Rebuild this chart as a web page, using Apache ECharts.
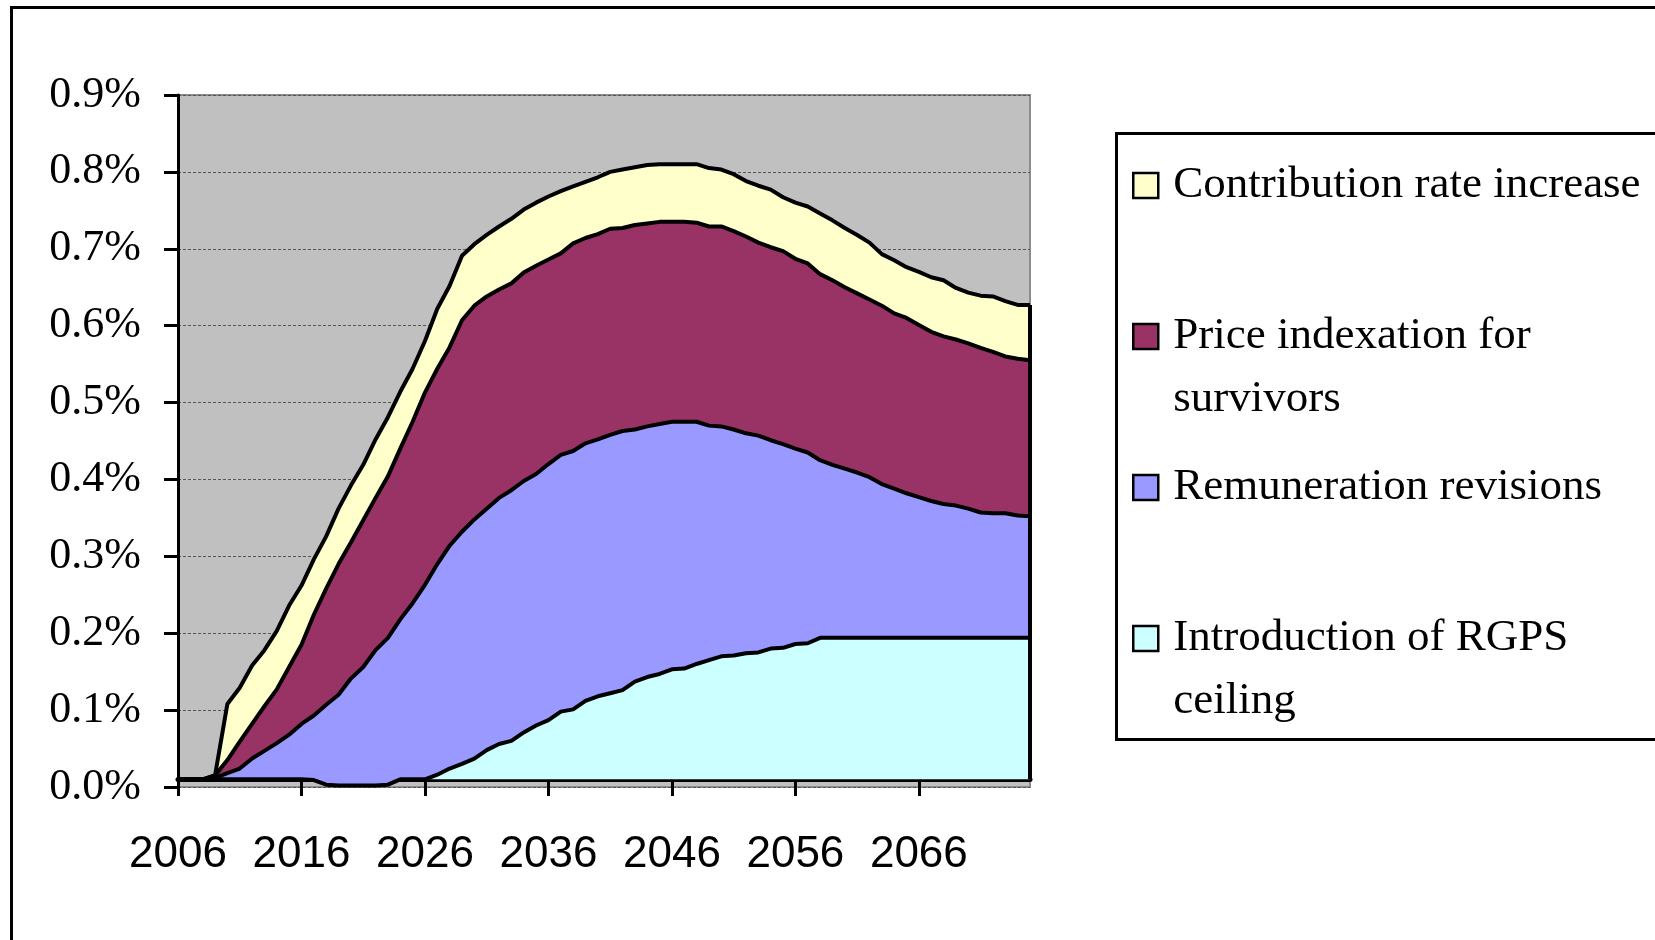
<!DOCTYPE html>
<html>
<head>
<meta charset="utf-8">
<script src="https://cdn.jsdelivr.net/npm/echarts@6/dist/echarts.min.js"></script>
<style>
html, body { margin: 0; padding: 0; background: #fff; }
#chart { width: 1655px; height: 940px; }
</style>
</head>
<body>
<div id="chart"></div>
<script>
var years = ['2006','2007','2008','2009','2010','2011','2012','2013','2014','2015',
    '2016','2017','2018','2019','2020','2021','2022','2023','2024','2025',
    '2026','2027','2028','2029','2030','2031','2032','2033','2034','2035',
    '2036','2037','2038','2039','2040','2041','2042','2043','2044','2045',
    '2046','2047','2048','2049','2050','2051','2052','2053','2054','2055',
    '2056','2057','2058','2059','2060','2061','2062','2063','2064','2065',
    '2066','2067','2068','2069','2070','2071','2072','2073','2074','2075'];

// values in % of GDP, bottom of the stack first
var rgpsCeiling = [0.010, 0.010, 0.010, 0.010, 0.010, 0.010, 0.010, 0.010, 0.010, 0.010,
    0.010, 0.009, 0.003, 0.002, 0.002, 0.002, 0.002, 0.003, 0.010, 0.010,
    0.010, 0.016, 0.024, 0.030, 0.037, 0.048, 0.056, 0.060, 0.071, 0.080,
    0.087, 0.098, 0.101, 0.112, 0.118, 0.122, 0.126, 0.137, 0.143, 0.147,
    0.153, 0.154, 0.160, 0.165, 0.170, 0.171, 0.174, 0.175, 0.180, 0.181,
    0.186, 0.187, 0.194, 0.194, 0.194, 0.194, 0.194, 0.194, 0.194, 0.194,
    0.194, 0.194, 0.194, 0.194, 0.194, 0.194, 0.194, 0.194, 0.194, 0.194];
var remuneration = [0, 0, 0, 0.002, 0.008, 0.014, 0.027, 0.037, 0.047, 0.058,
    0.072, 0.084, 0.104, 0.118, 0.139, 0.154, 0.176, 0.191, 0.208, 0.229,
    0.253, 0.274, 0.290, 0.302, 0.311, 0.314, 0.320, 0.326, 0.327, 0.327,
    0.333, 0.334, 0.336, 0.335, 0.334, 0.336, 0.337, 0.328, 0.326, 0.325,
    0.322, 0.321, 0.315, 0.305, 0.299, 0.294, 0.286, 0.282, 0.271, 0.265,
    0.254, 0.248, 0.231, 0.225, 0.220, 0.215, 0.209, 0.200, 0.194, 0.188,
    0.183, 0.178, 0.174, 0.172, 0.168, 0.163, 0.162, 0.162, 0.159, 0.158];
var priceIndexation = [0, 0, 0, 0.003, 0.017, 0.035, 0.045, 0.058, 0.070, 0.088,
    0.103, 0.131, 0.151, 0.170, 0.177, 0.191, 0.198, 0.210, 0.222, 0.236,
    0.250, 0.254, 0.258, 0.275, 0.278, 0.276, 0.271, 0.269, 0.271, 0.271,
    0.266, 0.262, 0.270, 0.267, 0.267, 0.268, 0.264, 0.266, 0.264, 0.263,
    0.260, 0.260, 0.259, 0.259, 0.260, 0.258, 0.256, 0.251, 0.251, 0.251,
    0.247, 0.246, 0.242, 0.240, 0.236, 0.233, 0.231, 0.232, 0.228, 0.228,
    0.224, 0.220, 0.218, 0.216, 0.215, 0.214, 0.210, 0.204, 0.204, 0.203];
var contributionRate = [0, 0, 0, 0, 0.073, 0.070, 0.076, 0.073, 0.076, 0.080,
    0.077, 0.072, 0.068, 0.072, 0.074, 0.072, 0.076, 0.077, 0.074, 0.069,
    0.067, 0.078, 0.080, 0.084, 0.080, 0.080, 0.082, 0.084, 0.082, 0.082,
    0.082, 0.081, 0.074, 0.073, 0.074, 0.074, 0.076, 0.075, 0.076, 0.075,
    0.075, 0.075, 0.076, 0.076, 0.074, 0.074, 0.072, 0.074, 0.075, 0.070,
    0.073, 0.074, 0.079, 0.078, 0.077, 0.076, 0.074, 0.067, 0.069, 0.066,
    0.069, 0.071, 0.073, 0.067, 0.066, 0.068, 0.072, 0.072, 0.070, 0.072];

var baseline = 0.010;  // where the category axis crosses

var names = ['Introduction of RGPS ceiling', 'Remuneration revisions',
    'Price indexation for survivors', 'Contribution rate increase'];
var colors = ['#CCFFFF', '#9999FF', '#993366', '#FFFFCC'];
var seriesData = [rgpsCeiling, remuneration, priceIndexation, contributionRate];

// legend names broken over two lines, second line hangs below the first
var wrapped = {
    'Price indexation for survivors': ['Price indexation for', 'survivors'],
    'Introduction of RGPS ceiling': ['Introduction of RGPS', 'ceiling']
};

var last = years.length - 1;
var endTotal = rgpsCeiling[last] + remuneration[last] + priceIndexation[last] + contributionRate[last];

var myChart = echarts.init(document.getElementById('chart'));

var series = names.map(function (n, k) {
    var s = {
        name: n,
        type: 'line',
        stack: 'total',
        data: seriesData[k],
        symbol: 'none',
        color: colors[k],
        lineStyle: { color: '#000', width: 4 },
        areaStyle: { color: colors[k], opacity: 1, origin: baseline },
        emphasis: { disabled: true },
        z: 2
    };
    if (k === names.length - 1) {
        s.markLine = {
            silent: true,
            symbol: 'none',
            label: { show: false },
            lineStyle: { color: '#000', width: 4, type: 'solid' },
            data: [[{ coord: [years[last], baseline] }, { coord: [years[last], endTotal] }]]
        };
    }
    return s;
});

var serif = '"Liberation Serif", "Times New Roman", serif';

option = {
    animation: false,
    backgroundColor: '#fff',
    grid: {
        left: 178, top: 95, width: 852, height: 692,
        show: true,
        backgroundColor: '#C0C0C0',
        borderColor: '#8c8c8c',
        borderWidth: 2
    },
    xAxis: {
        type: 'category',
        data: years,
        boundaryGap: false,
        offset: -8,
        axisLine: { onZero: false, lineStyle: { color: '#000', width: 5 } },
        axisTick: { interval: 9, length: 17, lineStyle: { color: '#000', width: 3 } },
        axisLabel: {
            interval: 9,
            margin: 54,
            color: '#000',
            fontFamily: '"Liberation Sans", Arial, sans-serif',
            fontSize: 44
        },
        splitLine: { show: false }
    },
    yAxis: {
        type: 'value',
        min: 0,
        max: 0.9,
        interval: 0.1,
        axisLine: { show: true, lineStyle: { color: '#000', width: 3 } },
        axisTick: { show: true, length: 14, lineStyle: { color: '#000', width: 3 } },
        axisLabel: {
            margin: 37,
            color: '#000',
            fontFamily: serif,
            fontSize: 44,
            formatter: function (v) { return v.toFixed(1) + '%'; }
        },
        splitLine: { show: true, lineStyle: { color: '#555', width: 1, type: [3, 2] } }
    },
    legend: {
        orient: 'vertical',
        left: 1132,
        top: 153,
        padding: 0,
        itemGap: 33,
        itemWidth: 25,
        itemHeight: 25,
        icon: 'rect',
        selectedMode: false,
        itemStyle: { borderColor: '#000', borderWidth: 2.5 },
        textStyle: {
            color: '#000',
            fontFamily: serif,
            fontSize: 45,
            lineHeight: 64,
            rich: {
                a: { fontFamily: serif, fontSize: 45, lineHeight: 64, padding: [0, 0, 0, 10] },
                b: { fontFamily: serif, fontSize: 45, lineHeight: 1, verticalAlign: 'top', padding: [9, 0, 0, 10] }
            }
        },
        formatter: function (name) {
            var w = wrapped[name] || [name, ' '];
            return '{a|' + w[0] + '}\n{b|' + w[1] + '}';
        },
        data: [names[3], names[2], names[1], names[0]]
    },
    graphic: [
        {
            type: 'rect', z: 0, silent: true,
            shape: { x: 11.5, y: 7.5, width: 1700, height: 1000 },
            style: { fill: 'none', stroke: '#000', lineWidth: 3 }
        },
        {
            type: 'rect', z: 0, silent: true,
            shape: { x: 1116.5, y: 133.5, width: 700, height: 606 },
            style: { fill: '#fff', stroke: '#000', lineWidth: 3 }
        }
    ],
    series: series
};

myChart.setOption(option);
</script>
</body>
</html>
